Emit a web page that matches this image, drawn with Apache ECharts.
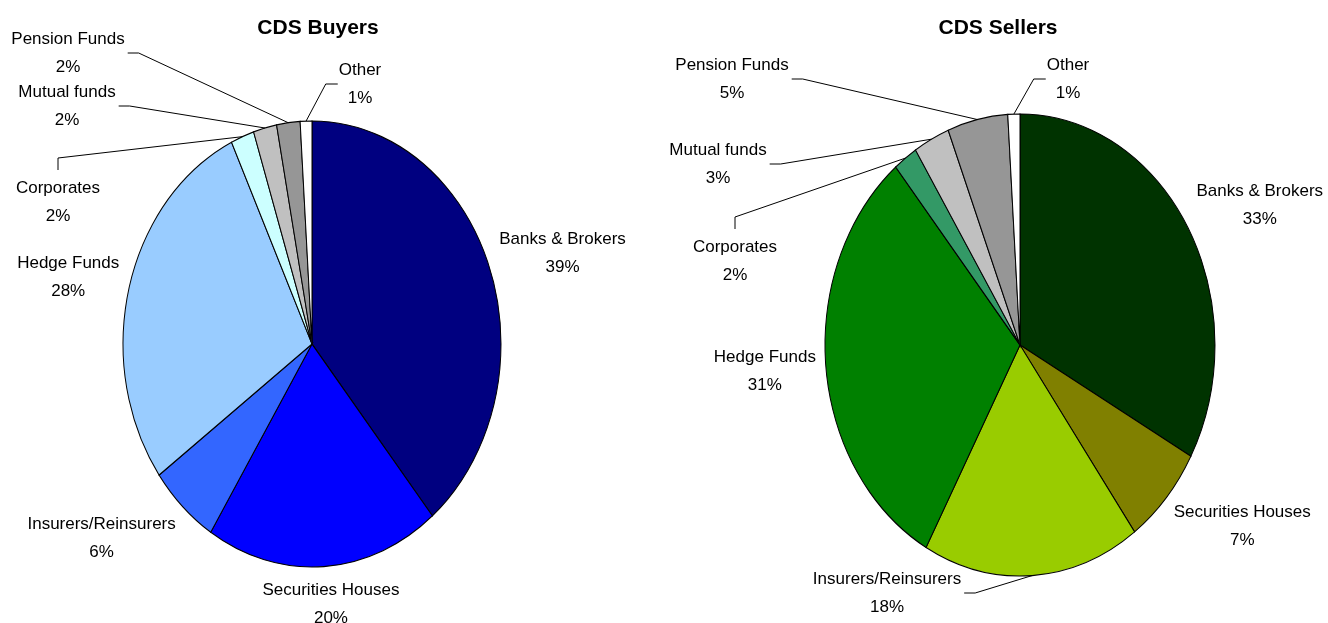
<!DOCTYPE html>
<html>
<head>
<meta charset="utf-8">
<title>CDS Buyers and Sellers</title>
<script src="https://cdn.jsdelivr.net/npm/echarts@6/dist/echarts.min.js"></script>
<style>
  html, body { margin: 0; padding: 0; background: #fff; }
  #chart { width: 1328px; height: 623px; }
</style>
</head>
<body>
<div id="chart"></div>
<script>
const categories = ['Banks & Brokers', 'Securities Houses', 'Insurers/Reinsurers', 'Hedge Funds', 'Corporates', 'Mutual funds', 'Pension Funds', 'Other'];
const buyersShare = [39, 20, 6, 28, 2, 2, 2, 1];
const sellersShare = [33, 7, 18, 31, 2, 3, 5, 1];
const buyersColors = ['#000080', '#0000ff', '#3366ff', '#99ccff', '#ccffff', '#c0c0c0', '#969696', '#ffffff'];
const sellersColors = ['#003300', '#808000', '#99cc00', '#008000', '#339966', '#c0c0c0', '#969696', '#ffffff'];

const FONT = 'Arial, "Liberation Sans", sans-serif';
const LABEL_SIZE = 17;
const LINE_H = 28;

// the original pies are squashed (ellipses), centre + radii in px
const buyersPie = { cx: 312, cy: 344, rx: 189, ry: 223 };
const sellersPie = { cx: 1020, cy: 345, rx: 195, ry: 231 };

// labels dragged away from the pie in the original (with leader lines)
// dx/dy = label centre relative to pie centre, side = where the leader leaves the label
const buyersMoved = {
  'Pension Funds': { dx: -244, dy: -291, side: 'right' },
  'Mutual funds': { dx: -245, dy: -238, side: 'right' },
  'Corporates': { dx: -254, dy: -142, side: 'top' },
  'Other': { dx: 48, dy: -260, side: 'left' }
};
const sellersMoved = {
  'Pension Funds': { dx: -288, dy: -266, side: 'right' },
  'Mutual funds': { dx: -302, dy: -181, side: 'right' },
  'Corporates': { dx: -285, dy: -84, side: 'top' },
  'Other': { dx: 48, dy: -266, side: 'left' },
  'Insurers/Reinsurers': { dx: -133, dy: 248, side: 'right' }
};

const measureCtx = document.createElement('canvas').getContext('2d');
function textWidth(s) {
  measureCtx.font = LABEL_SIZE + 'px ' + FONT;
  return measureCtx.measureText(s).width;
}

function pieSeries(values, colors, pie, moved) {
  const total = values.reduce((a, b) => a + b, 0);
  const starts = [];
  let acc = 0;
  values.forEach(v => { starts.push(acc); acc += v; });
  const clamp = t => Math.max(-1, Math.min(1, t));

  return {
    type: 'custom',
    coordinateSystem: 'none',
    data: values,
    silent: true,
    animation: false,
    renderItem: function (params, api) {
      const i = params.dataIndex;
      const v = api.value(0);
      const a0 = starts[i] / total * Math.PI * 2;
      const a1 = (starts[i] + v) / total * Math.PI * 2;
      const mid = (a0 + a1) / 2;
      const s = Math.sin(mid), c = Math.cos(mid);
      const edge = [pie.cx + pie.rx * s, pie.cy - pie.ry * c];
      const name = categories[i];
      const pct = Math.round(v / total * 100) + '%';
      const w = Math.max(textWidth(name), textWidth(pct));

      const children = [{
        type: 'sector',
        x: pie.cx,
        y: pie.cy,
        scaleY: pie.ry / pie.rx,
        shape: {
          cx: 0, cy: 0, r0: 0, r: pie.rx,
          startAngle: a0 - Math.PI / 2,
          endAngle: a1 - Math.PI / 2,
          clockwise: true
        },
        style: { fill: colors[i], stroke: '#000', lineWidth: 1, strokeNoScale: true }
      }];

      let lx, ly;
      const m = moved[name];
      if (m) {
        lx = pie.cx + m.dx;
        ly = pie.cy + m.dy;
        let p0, p1;
        if (m.side === 'right') {
          p0 = [lx + w / 2 + 3, ly];
          p1 = [p0[0] + 11, ly];
        } else if (m.side === 'left') {
          p0 = [lx - w / 2 - 1, ly];
          p1 = [p0[0] - 12, ly];
        } else {
          p0 = [lx, ly - LINE_H - 4];
          p1 = [lx, p0[1] - 12];
        }
        children.push({
          type: 'polyline',
          z2: 5,
          shape: { points: [p0, p1, edge] },
          style: { stroke: '#000', lineWidth: 1, fill: null }
        });
      } else {
        const ax = edge[0] + 10 * s, ay = edge[1] - 10 * c;
        lx = ax + w / 2 * clamp(1.5 * s);
        ly = ay - LINE_H * clamp(1.2 * c);
      }

      children.push({
        type: 'text',
        z2: 6,
        x: lx,
        y: ly,
        style: {
          text: name + '\n' + pct,
          fill: '#000',
          fontSize: LABEL_SIZE,
          fontFamily: FONT,
          align: 'center',
          verticalAlign: 'middle',
          lineHeight: LINE_H
        }
      });
      return { type: 'group', children: children };
    }
  };
}

const chart = echarts.init(document.getElementById('chart'));
chart.setOption({
  backgroundColor: '#ffffff',
  animation: false,
  graphic: [
    {
      type: 'text', x: 318, y: 28,
      style: { text: 'CDS Buyers', fill: '#000', fontSize: 21, fontWeight: 'bold', fontFamily: FONT, align: 'center', verticalAlign: 'middle' }
    },
    {
      type: 'text', x: 998, y: 28,
      style: { text: 'CDS Sellers', fill: '#000', fontSize: 21, fontWeight: 'bold', fontFamily: FONT, align: 'center', verticalAlign: 'middle' }
    }
  ],
  series: [
    pieSeries(buyersShare, buyersColors, buyersPie, buyersMoved),
    pieSeries(sellersShare, sellersColors, sellersPie, sellersMoved)
  ]
});
window.addEventListener('resize', () => chart.resize());
</script>
</body>
</html>
